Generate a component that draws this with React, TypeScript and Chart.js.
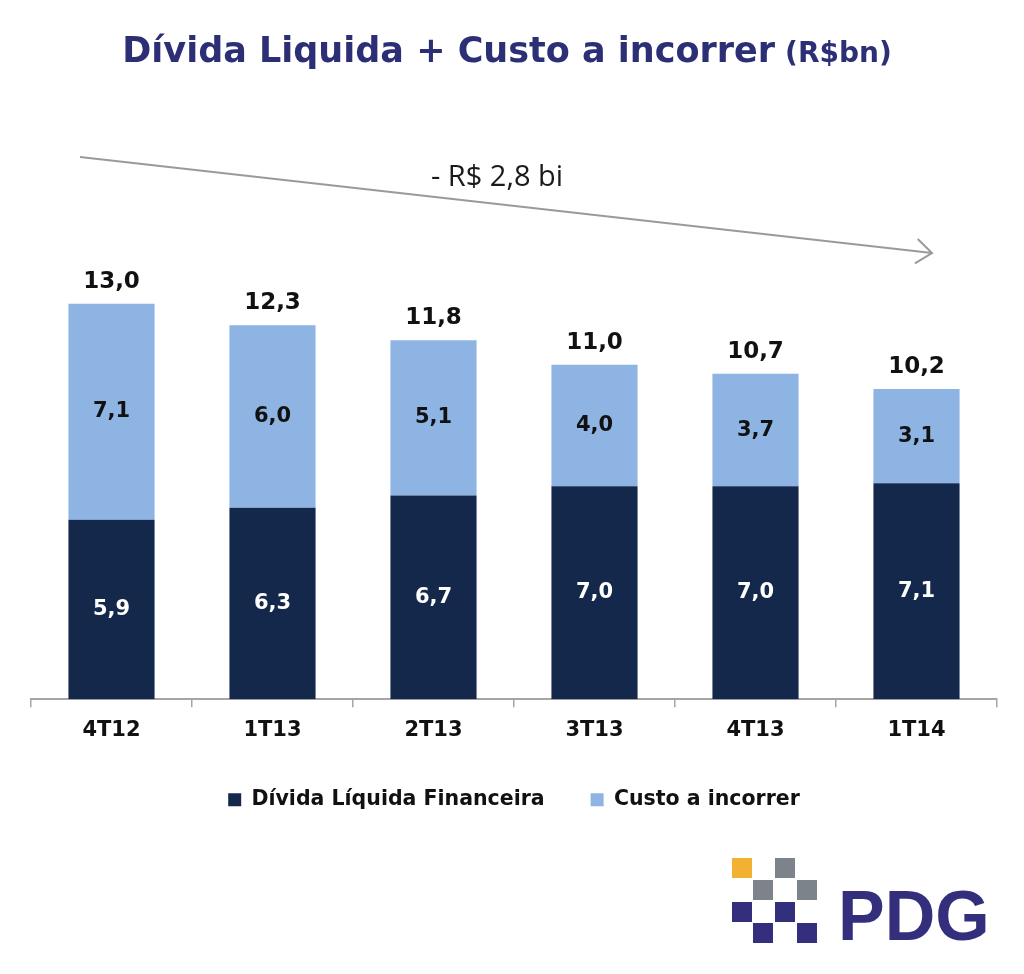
import React, { useEffect, useRef } from "react";
import { Chart, registerables } from "chart.js";

Chart.register(...registerables);

const categories = ["4T12", "1T13", "2T13", "3T13", "4T13", "1T14"];
const dividaLiquida = [5.9, 6.3, 6.7, 7.0, 7.0, 7.1];
const custoIncorrer = [7.1, 6.0, 5.1, 4.0, 3.7, 3.1];
const seriesNames = ["Dívida Líquida Financeira", "Custo a incorrer"];
const titleMain = "Dívida Liquida + Custo a incorrer";
const titleUnit = "(R$bn)";
const arrowLabel = "- R$ 2,8 bi";
const logoText = "PDG";

const FONT = "'DejaVu Sans', Verdana, sans-serif";
const NAVY = "#14284b";
const LIGHT = "#8db4e2";
const fmt = (v: number) => v.toFixed(1).replace(".", ",");

const overlayPlugin = {
  id: "overlay",
  afterDatasetsDraw(chart: any) {
    const ctx = chart.ctx as CanvasRenderingContext2D;
    ctx.save();
    ctx.textAlign = "center";
    chart.data.datasets.forEach((ds: any, di: number) => {
      const meta = chart.getDatasetMeta(di);
      meta.data.forEach((el: any, i: number) => {
        const { x, y, base } = el.getProps(["x", "y", "base"], true);
        ctx.font = `bold 21px ${FONT}`;
        ctx.fillStyle = di === 0 ? "#ffffff" : "#111111";
        ctx.textBaseline = "middle";
        ctx.fillText(fmt(ds.data[i]), x, (y + base) / 2);
      });
    });
    const topMeta = chart.getDatasetMeta(1);
    topMeta.data.forEach((el: any, i: number) => {
      const total = dividaLiquida[i] + custoIncorrer[i];
      ctx.font = `bold 23px ${FONT}`;
      ctx.fillStyle = "#111111";
      ctx.textBaseline = "alphabetic";
      ctx.fillText(fmt(total), el.x, el.y - 16);
    });
    ctx.restore();
  },
  afterDraw(chart: any) {
    const ctx = chart.ctx as CanvasRenderingContext2D;
    ctx.save();
    // Title
    ctx.fillStyle = "#2c2f75";
    ctx.textBaseline = "alphabetic";
    ctx.textAlign = "left";
    ctx.font = `bold 35px ${FONT}`;
    const wMain = ctx.measureText(titleMain).width;
    ctx.font = `bold 28px ${FONT}`;
    const wUnit = ctx.measureText(titleUnit).width;
    const gap = 10;
    const startX = 507 - (wMain + gap + wUnit) / 2;
    ctx.font = `bold 35px ${FONT}`;
    ctx.fillText(titleMain, startX, 62);
    ctx.font = `bold 28px ${FONT}`;
    ctx.fillText(titleUnit, startX + wMain + gap, 62);

    // Arrow
    const x1 = 80, y1 = 157, x2 = 932, y2 = 253;
    ctx.strokeStyle = "#9a9a9a";
    ctx.lineWidth = 2;
    ctx.beginPath();
    ctx.moveTo(x1, y1);
    ctx.lineTo(x2, y2);
    const a = Math.atan2(y2 - y1, x2 - x1);
    const hl = 20, ha = (38 * Math.PI) / 180;
    ctx.moveTo(x2 - hl * Math.cos(a - ha), y2 - hl * Math.sin(a - ha));
    ctx.lineTo(x2, y2);
    ctx.lineTo(x2 - hl * Math.cos(a + ha), y2 - hl * Math.sin(a + ha));
    ctx.stroke();
    ctx.fillStyle = "#1a1a1a";
    ctx.font = `29px 'Open Sans', 'Liberation Sans', sans-serif`;
    ctx.textAlign = "center";
    ctx.fillText(arrowLabel, 497, 186);

    // Logo
    const sq = 20;
    const cols = [732, 753, 775, 797];
    const rows = [858, 880, 902, 923];
    const cells: [number, number, string][] = [
      [0, 0, "#f2b133"],
      [2, 0, "#7d838a"],
      [1, 1, "#7d838a"],
      [3, 1, "#7d838a"],
      [0, 2, "#342f7c"],
      [2, 2, "#342f7c"],
      [1, 3, "#342f7c"],
      [3, 3, "#342f7c"],
    ];
    cells.forEach(([c, r, col]) => {
      ctx.fillStyle = col;
      ctx.fillRect(cols[c], rows[r], sq, sq);
    });
    ctx.fillStyle = "#342f7c";
    ctx.textAlign = "left";
    ctx.font = `bold 70px 'Liberation Sans', Arial, sans-serif`;
    ctx.fillText(logoText, 838, 940);
    ctx.restore();
  },
};

export default function App() {
  const ref = useRef<HTMLCanvasElement | null>(null);
  useEffect(() => {
    if (!ref.current) return;
    const chart = new Chart(ref.current, {
      type: "bar",
      data: {
        labels: categories,
        datasets: [
          {
            label: seriesNames[0],
            data: dividaLiquida,
            backgroundColor: NAVY,
            borderWidth: 0,
            categoryPercentage: 1,
            barPercentage: 0.535,
          },
          {
            label: seriesNames[1],
            data: custoIncorrer,
            backgroundColor: LIGHT,
            borderWidth: 0,
            categoryPercentage: 1,
            barPercentage: 0.535,
          },
        ],
      },
      options: {
        responsive: false,
        animation: false,
        layout: { padding: { top: 243, left: 31, right: 27, bottom: 154 } },
        plugins: {
          legend: {
            position: "bottom",
            labels: {
              boxWidth: 13,
              boxHeight: 13,
              padding: 46,
              color: "#111111",
              font: { family: FONT, weight: "bold", size: 20.5 },
            },
          },
          tooltip: { enabled: false },
          title: { display: false },
        },
        scales: {
          x: {
            stacked: true,
            afterFit: (scale: any) => {
              scale.height = scale.height - 11;
            },
            grid: {
              display: true,
              drawOnChartArea: false,
              drawTicks: true,
              tickLength: 8,
              color: "#a6a6a6",
              lineWidth: 1.5,
            },
            border: { display: true, color: "#a6a6a6", width: 2 },
            ticks: {
              color: "#111111",
              padding: 11,
              font: { family: FONT, weight: "bold", size: 21, lineHeight: 1.2 },
            },
          },
          y: {
            stacked: true,
            display: false,
            min: 0,
            max: 15,
          },
        },
      },
      plugins: [overlayPlugin],
    });
    return () => chart.destroy();
  }, []);
  return (
    <div style={{ position: "fixed", left: 0, top: 0, width: 1024, height: 974, background: "#ffffff" }}>
      <canvas ref={ref} width={1024} height={974} style={{ display: "block" }} />
    </div>
  );
}
